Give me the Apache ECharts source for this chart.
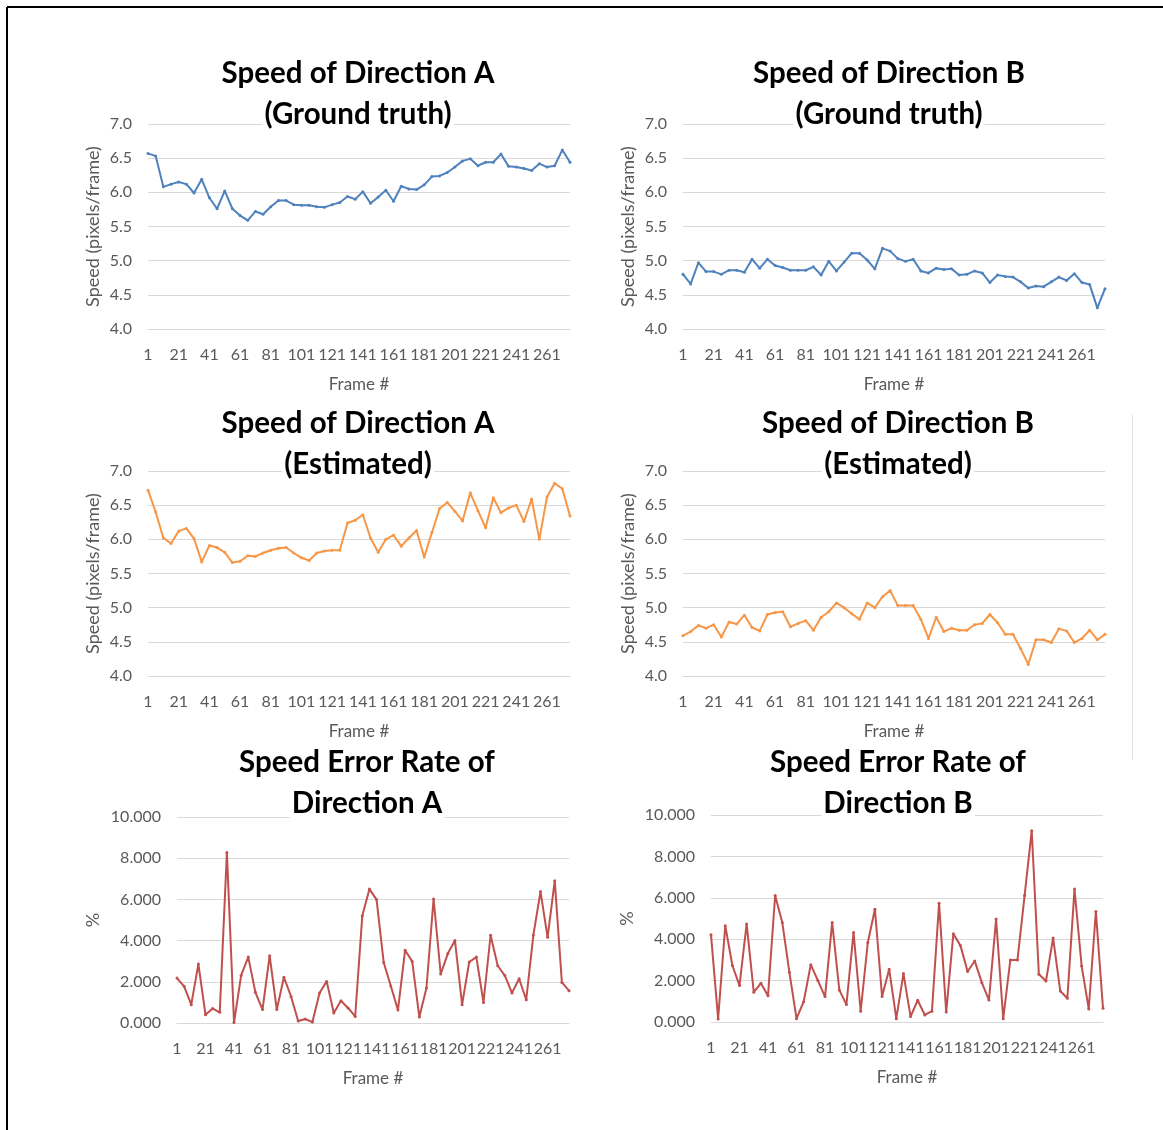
<!DOCTYPE html>
<html><head><meta charset="utf-8">
<script src="https://cdn.jsdelivr.net/npm/echarts@6/dist/echarts.min.js"></script>
<style>html,body{margin:0;padding:0;background:#fff}#c{width:1163px;height:1130px}</style>
</head><body><div id="c"></div>
<script>
const frames = ['1','6','11','16','21','26','31','36','41','46','51','56','61','66','71','76','81','86','91','96','101','106','111','116','121','126','131','136','141','146','151','156','161','166','171','176','181','186','191','196','201','206','211','216','221','226','231','236','241','246','251','256','261','266','271','276'];

const speedA_truth = [6.57,6.53,6.08,6.12,6.15,6.12,5.99,6.19,5.92,5.76,6.02,5.76,5.66,5.59,5.72,5.68,5.79,5.88,5.88,5.82,5.81,5.81,5.79,5.78,5.82,5.85,5.94,5.90,6.01,5.84,5.93,6.03,5.87,6.09,6.05,6.04,6.11,6.23,6.24,6.29,6.37,6.46,6.49,6.39,6.44,6.44,6.56,6.38,6.37,6.35,6.32,6.42,6.37,6.39,6.62,6.44];
const speedB_truth = [4.80,4.66,4.97,4.84,4.84,4.80,4.86,4.86,4.83,5.02,4.89,5.02,4.93,4.90,4.86,4.86,4.86,4.91,4.79,4.99,4.85,4.98,5.11,5.11,5.01,4.88,5.18,5.14,5.03,4.99,5.02,4.85,4.82,4.89,4.87,4.88,4.79,4.80,4.85,4.82,4.68,4.79,4.77,4.76,4.69,4.60,4.63,4.62,4.69,4.76,4.71,4.81,4.68,4.65,4.31,4.59];
const speedA_est = [6.72,6.40,6.02,5.94,6.12,6.16,6.01,5.67,5.91,5.88,5.81,5.66,5.68,5.76,5.75,5.80,5.84,5.87,5.88,5.80,5.73,5.69,5.80,5.83,5.84,5.84,6.24,6.28,6.36,6.02,5.81,6.00,6.06,5.90,6.02,6.13,5.74,6.10,6.45,6.54,6.41,6.27,6.68,6.42,6.17,6.61,6.39,6.46,6.50,6.26,6.59,6.00,6.62,6.82,6.74,6.34];
const speedB_est = [4.59,4.65,4.74,4.70,4.75,4.57,4.79,4.76,4.89,4.71,4.66,4.90,4.93,4.94,4.72,4.77,4.81,4.67,4.86,4.94,5.07,5.00,4.91,4.83,5.07,5.00,5.16,5.25,5.03,5.03,5.03,4.83,4.55,4.86,4.65,4.70,4.67,4.67,4.75,4.77,4.90,4.78,4.61,4.61,4.40,4.17,4.53,4.53,4.49,4.69,4.66,4.49,4.55,4.67,4.53,4.61];
const errorA = [2.18,1.78,0.89,2.86,0.40,0.70,0.52,8.28,0.02,2.31,3.20,1.49,0.65,3.27,0.65,2.22,1.29,0.10,0.19,0.05,1.46,2.02,0.49,1.08,0.73,0.32,5.21,6.50,5.99,2.94,1.80,0.63,3.53,2.99,0.29,1.70,6.02,2.38,3.37,4.00,0.89,2.96,3.20,1.00,4.26,2.78,2.30,1.46,2.15,1.13,4.27,6.38,4.16,6.91,1.97,1.57];
const errorB = [4.21,0.15,4.65,2.73,1.76,4.74,1.44,1.87,1.27,6.11,4.81,2.40,0.16,0.98,2.77,2.00,1.23,4.81,1.55,0.84,4.32,0.52,3.84,5.45,1.23,2.55,0.16,2.34,0.26,1.05,0.34,0.52,5.74,0.48,4.26,3.69,2.44,2.95,1.90,1.06,4.97,0.16,3.00,3.00,6.11,9.24,2.31,1.98,4.06,1.50,1.15,6.42,2.71,0.63,5.34,0.66];

const speedTicks = {min: 4, max: 7, interval: 0.5};
const errorTicks = {min: 0, max: 10, interval: 2};

const FONT = 'Lato, "Open Sans", sans-serif';
const GRAY = '#595959';
const panels = [
  {title:['Speed of Direction A','(Ground truth)'], tx:358, ty:73, data:speedA_truth, color:'#4F81BD', grid:{left:148,top:124,width:422,height:205}, yname:'Speed (pixels/frame)', ticks:speedTicks, dec:1},
  {title:['Speed of Direction B','(Ground truth)'], tx:889, ty:73, data:speedB_truth, color:'#4F81BD', grid:{left:683,top:124,width:422,height:205}, yname:'Speed (pixels/frame)', ticks:speedTicks, dec:1},
  {title:['Speed of Direction A','(Estimated)'], tx:358, ty:423, data:speedA_est, color:'#F79646', grid:{left:148,top:471,width:422,height:205}, yname:'Speed (pixels/frame)', ticks:speedTicks, dec:1},
  {title:['Speed of Direction B','(Estimated)'], tx:898, ty:423, data:speedB_est, color:'#F79646', grid:{left:683,top:471,width:422,height:205}, yname:'Speed (pixels/frame)', ticks:speedTicks, dec:1},
  {title:['Speed Error Rate of','Direction A'], tx:367, ty:762, data:errorA, color:'#C0504D', grid:{left:177,top:817,width:392,height:206}, yname:'%', ticks:errorTicks, dec:3},
  {title:['Speed Error Rate of','Direction B'], tx:898, ty:762, data:errorB, color:'#C0504D', grid:{left:711,top:815,width:392,height:207}, yname:'%', ticks:errorTicks, dec:3}
];

const option = {
  animation:false,
  backgroundColor:'#fff',
  grid:[], xAxis:[], yAxis:[], series:[], graphic:[]
};
panels.forEach((p,i)=>{
  option.grid.push(p.grid);
  option.xAxis.push({
    type:'category', gridIndex:i, data:frames, boundaryGap:false,
    axisLine:{show:true,lineStyle:{color:'#d9d9d9'}}, axisTick:{show:false},
    axisLabel:{interval:3, color:GRAY, fontSize:16, fontFamily:FONT, margin:18},
    name:'Frame #', nameLocation:'middle', nameGap:47,
    nameTextStyle:{color:GRAY, fontSize:17, fontFamily:FONT}
  });
  option.yAxis.push({
    type:'value', gridIndex:i, min:p.ticks.min, max:p.ticks.max, interval:p.ticks.interval,
    axisLine:{show:false}, axisTick:{show:false},
    splitLine:{lineStyle:{color:'#d9d9d9'}},
    axisLabel:{color:GRAY, fontSize:16, fontFamily:FONT, margin:16, formatter:v=>v.toFixed(p.dec)},
    name:p.yname, nameLocation:'middle', nameGap: p.dec===1?46:75, nameRotate:90,
    nameTextStyle:{color:GRAY, fontSize:18, fontFamily:FONT}
  });
  option.series.push({
    type:'line', xAxisIndex:i, yAxisIndex:i, data:p.data,
    symbol:'circle', symbolSize:3, showAllSymbol:true,
    lineStyle:{color:p.color,width:2}, itemStyle:{color:p.color}
  });
  p.title.forEach((t,k)=>{
    option.graphic.push({type:'text', x:p.tx, y:p.ty + k*41, z:100,
      style:{text:t, font:'bold 29.5px '+FONT, fill:'#000', textAlign:'center', textVerticalAlign:'middle',
             backgroundColor:'#fff', padding:[0,2]}});
  });
});
option.graphic.push({type:'line', shape:{x1:7,y1:7,x2:1163,y2:7}, style:{stroke:'#000',lineWidth:2}});
option.graphic.push({type:'line', shape:{x1:7,y1:7,x2:7,y2:1130}, style:{stroke:'#000',lineWidth:2}});
option.graphic.push({type:'line', shape:{x1:1132.5,y1:415,x2:1132.5,y2:760}, style:{stroke:'#e0e0e0',lineWidth:1}});

const chart = echarts.init(document.getElementById('c'));
chart.setOption(option);
</script></body></html>
